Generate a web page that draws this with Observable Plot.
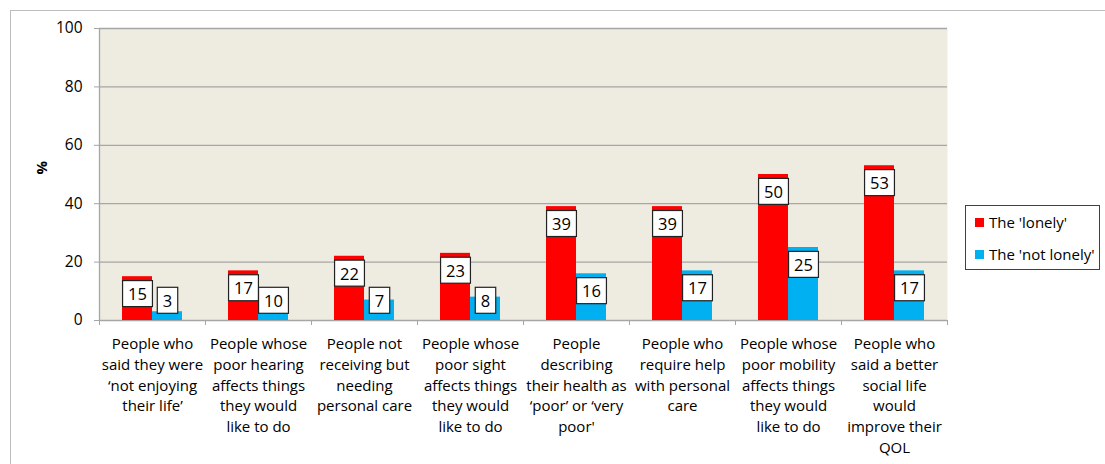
<!DOCTYPE html>
<html>
<head>
<meta charset="utf-8">
<script src="https://cdn.jsdelivr.net/npm/d3@7"></script>
<script src="https://cdn.jsdelivr.net/npm/@observablehq/plot@0.6"></script>
<style>
  body { margin: 0; background: #fff; font-family: "Open Sans", sans-serif; }
  #wrap { position: relative; width: 1105px; height: 464px; overflow: hidden; }
  #border { position: absolute; left: 10px; top: 10px; width: 1200px; height: 600px; border-left: 1px solid #BDBDBD; border-top: 1px solid #BDBDBD; }
  #legend { position: absolute; left: 965px; top: 205px; width: 133px; height: 63px; border: 1px solid #404040; background: #fff; font-size: 15px; color: #000; }
  .item { position: absolute; left: 9px; display: flex; align-items: center; }
  .sw { width: 9px; height: 9px; margin-right: 5px; }
  #chart { position: absolute; left: 0; top: 0; }
</style>
</head>
<body>
<div id="wrap">
  <div id="border"></div>
  <div id="chart"></div>
  <div id="legend"></div>
</div>
<script>
const categories = ["c1","c2","c3","c4","c5","c6","c7","c8"];
const categoryLabels = [
  "People who\nsaid they were\n\u2018not enjoying\ntheir life\u2019",
  "People whose\npoor hearing\naffects things\nthey would\nlike to do",
  "People not\nreceiving but\nneeding\npersonal care",
  "People whose\npoor sight\naffects things\nthey would\nlike to do",
  "People\ndescribing\ntheir health as\n\u2018poor\u2019 or \u2018very\npoor'",
  "People who\nrequire help\nwith personal\ncare",
  "People whose\npoor mobility\naffects things\nthey would\nlike to do",
  "People who\nsaid a better\nsocial life\nwould\nimprove their\nQOL"
];
const seriesNames = ["The 'lonely'", "The 'not lonely'"];
const lonely = [15, 17, 22, 23, 39, 39, 50, 53];
const notLonely = [3, 10, 7, 8, 16, 17, 25, 17];
const yTicks = [0, 20, 40, 60, 80, 100];
const colors = ["#FF0000", "#00B0F0"];

const rows = [];
categories.forEach((c, i) => {
  rows.push({cat: c, series: seriesNames[0], value: lonely[i], k: 0});
  rows.push({cat: c, series: seriesNames[1], value: notLonely[i], k: 1});
});
// label anchor: slightly below bar top, but kept above the baseline
rows.forEach(d => { d.labelY = Math.max(d.value - 6.2, 6.5); });

const labelMap = new Map(categories.map((c, i) => [c, categoryLabels[i]]));
const gray = "#A6A6A6";

const chart = Plot.plot({
  width: 1105,
  height: 464,
  marginLeft: 99,
  marginRight: 158,
  marginTop: 28,
  marginBottom: 144,
  style: {fontFamily: "'Open Sans', sans-serif", fontSize: "15px", color: "#000", background: "transparent"},
  x: {domain: categories, padding: 0, axis: null},
  y: {domain: [0, 100], axis: null},
  color: {domain: seriesNames, range: colors},
  marks: [
    Plot.frame({fill: "#EEEBE0", stroke: null}),
    Plot.gridY(yTicks, {stroke: gray, strokeOpacity: 1, strokeWidth: 1.3}),
    Plot.ruleX([categories[0]], {dx: -53, stroke: gray, strokeWidth: 1.3}),
    Plot.axisY({ticks: yTicks, tickSize: 5, tickPadding: 12, stroke: gray, fontSize: 15.5, label: null}),
    Plot.axisX({tickSize: 5, dx: -53, stroke: gray, tickFormat: () => "", label: null}),
    Plot.axisX([categories[categories.length - 1]], {tickSize: 5, dx: 53, stroke: gray, tickFormat: () => "", label: null}),
    Plot.axisX({tickSize: 0, tickPadding: 14, tickFormat: d => labelMap.get(d), lineHeight: 1.38, fontSize: 15, label: null}),
    Plot.barY(rows.filter(d => d.k === 0), {x: "cat", y: "value", fill: "series", insetLeft: 23, insetRight: 53}),
    Plot.barY(rows.filter(d => d.k === 1), {x: "cat", y: "value", fill: "series", insetLeft: 53, insetRight: 23}),
    Plot.text(rows.filter(d => d.k === 0), {x: "cat", y: "labelY", text: d => String(d.value), dx: -15, fontSize: 16.5, fill: "#000", className: "vlabel"}),
    Plot.text(rows.filter(d => d.k === 1), {x: "cat", y: "labelY", text: d => String(d.value), dx: 15, fontSize: 16.5, fill: "#000", className: "vlabel"}),
    Plot.text(["%"], {frameAnchor: "left", dx: -57, rotate: -90, fontWeight: "bold", fontSize: 15, fill: "#000"})
  ]
});
document.getElementById("chart").appendChild(chart);

// white boxes behind value labels
d3.select(chart).selectAll("g.vlabel text").each(function() {
  const b = this.getBBox();
  const cx = b.x + b.width / 2, cy = b.y + b.height / 2;
  const w = b.width + 11, h = 26;
  const parent = this.parentNode;
  const rect = document.createElementNS("http://www.w3.org/2000/svg", "rect");
  rect.setAttribute("x", cx - w / 2);
  rect.setAttribute("y", cy - h / 2);
  rect.setAttribute("width", w);
  rect.setAttribute("height", h);
  rect.setAttribute("fill", "#fff");
  rect.setAttribute("stroke", "#222");
  rect.setAttribute("stroke-width", "1.2");
  const t = this.getAttribute("transform");
  if (t) rect.setAttribute("transform", t);
  parent.insertBefore(rect, this);
});

// legend
const legend = document.getElementById("legend");
seriesNames.forEach((s, i) => {
  const it = document.createElement("div");
  it.className = "item";
  it.style.top = (i === 0 ? 6 : 38) + "px";
  const sw = document.createElement("div");
  sw.className = "sw";
  sw.style.background = colors[i];
  const tx = document.createElement("span");
  tx.textContent = s;
  it.appendChild(sw);
  it.appendChild(tx);
  legend.appendChild(it);
});
</script>
</body>
</html>
